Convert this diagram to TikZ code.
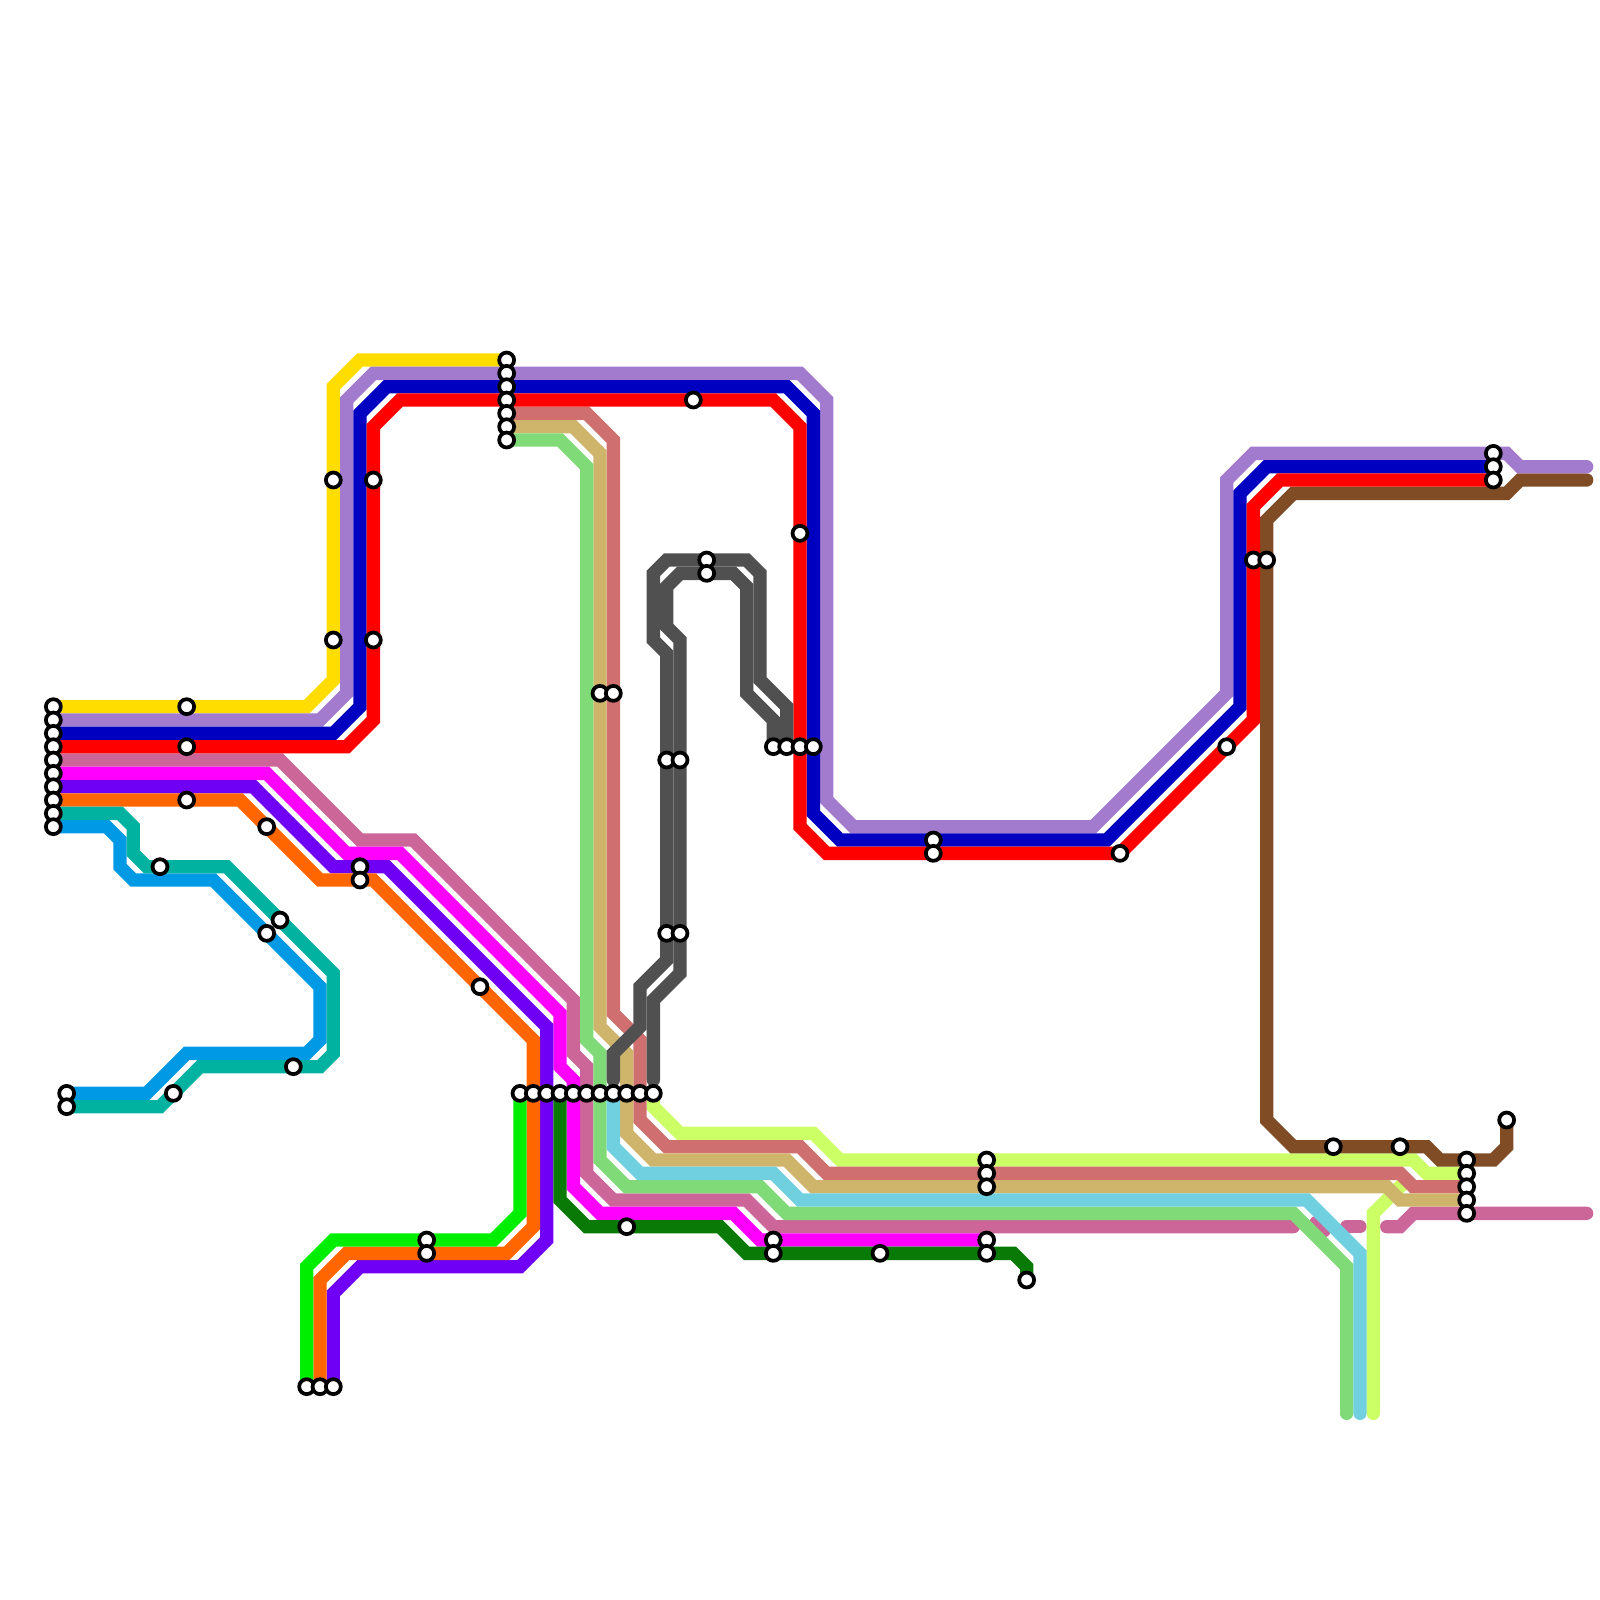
\documentclass[tikz,border=0pt]{standalone}
\definecolor{cyellow}{HTML}{FFDD00}
\definecolor{cpurple}{HTML}{A27BCE}
\definecolor{cnavy}{HTML}{0000C0}
\definecolor{cred}{HTML}{FF0000}
\definecolor{cpink}{HTML}{CC6699}
\definecolor{cmagenta}{HTML}{FF00FF}
\definecolor{cviolet}{HTML}{7000F5}
\definecolor{corange}{HTML}{FF6600}
\definecolor{cteal}{HTML}{00B29F}
\definecolor{csky}{HTML}{0099E6}
\definecolor{cgreen}{HTML}{00EE00}
\definecolor{cforest}{HTML}{0A7A06}
\definecolor{ctan}{HTML}{CFB56C}
\definecolor{csalmon}{HTML}{CF6F6F}
\definecolor{cmint}{HTML}{80DA78}
\definecolor{caqua}{HTML}{70D0E0}
\definecolor{clime}{HTML}{CCFF66}
\definecolor{cbrown}{HTML}{7F4C26}
\definecolor{cgrey}{HTML}{505050}
\begin{document}
\begin{tikzpicture}[x=1mm,y=-1mm,line join=miter,line cap=round,
	metro/.style={draw=#1,line width=1mm},
	station/.style={circle,draw=black,fill=white,line width=0.28mm,minimum size=1.12mm,inner sep=0pt}]
	\useasboundingbox (0,0) rectangle (120,120);
	% lines at the bottom of the stack
	\draw[metro=cpink] (4,57)--(21,57)--(27,63)--(31,63)--(43,75)--(43,79)--(44,80)--(44,88)--(46,90)--(56,90)--(58,92)--(97,92);
	\draw[metro=cpink] (98.7,91.7)--(99.3,92.3);
	\draw[metro=cpink] (101,92)--(102,92);
	\draw[metro=cpink] (104,92)--(105,92)--(106,91)--(119,91);
	\draw[metro=clime] (49,82)--(49,83)--(51,85)--(61,85)--(63,87)--(106,87)--(107,88)--(110,88);
	\draw[metro=clime] (103,106)--(103,91)--(105.5,88.5);
	\draw[metro=cbrown] (119,36)--(114,36)--(113,37)--(97,37)--(95,39)--(95,84)--(97,86)--(107,86)--(108,87)--(112,87)--(113,86)--(113,84);
	\draw[metro=csalmon] (38,31)--(44,31)--(46,33)--(46,76)--(48,78)--(48,84)--(50,86)--(60,86)--(62,88)--(105,88)--(106,89)--(110,89);
	\draw[metro=ctan] (38,32)--(43,32)--(45,34)--(45,77)--(47,79)--(47,85)--(49,87)--(59,87)--(61,89)--(104,89)--(105,90)--(110,90);
	\draw[metro=cmint] (38,33)--(42,33)--(44,35)--(44,78)--(45,79)--(45,87)--(47,89)--(57,89)--(59,91)--(97,91)--(101,95)--(101,106);
	\draw[metro=caqua] (46,82)--(46,86)--(48,88)--(58,88)--(60,90)--(98,90)--(102,94)--(102,106);
	% the long lines from the left
	\draw[metro=cyellow] (4,53)--(23,53)--(25,51)--(25,29)--(27,27)--(38,27);
	\draw[metro=cpurple] (4,54)--(24,54)--(26,52)--(26,30)--(28,28)--(60,28)--(62,30)--(62,60)--(64,62)--(82,62)--(92,52)--(92,36)--(94,34)--(113,34)--(114,35)--(119,35);
	\draw[metro=cnavy] (4,55)--(25,55)--(27,53)--(27,31)--(29,29)--(59,29)--(61,31)--(61,61)--(63,63)--(83,63)--(93,53)--(93,37)--(95,35)--(112,35);
	\draw[metro=cred] (4,56)--(26,56)--(28,54)--(28,32)--(30,30)--(58,30)--(60,32)--(60,62)--(62,64)--(84,64)--(94,54)--(94,38)--(96,36)--(112,36);
	\draw[metro=cmagenta] (4,58)--(20,58)--(26,64)--(30,64)--(42,76)--(42,80)--(43,81)--(43,89)--(45,91)--(55,91)--(57,93)--(74,93);
	\draw[metro=cviolet] (4,59)--(19,59)--(25,65)--(29,65)--(41,77)--(41,93)--(39,95)--(27,95)--(25,97)--(25,104);
	\draw[metro=corange] (4,60)--(18,60)--(24,66)--(28,66)--(40,78)--(40,92)--(38,94)--(26,94)--(24,96)--(24,104);
	\draw[metro=csky] (4,62)--(8,62)--(9,63)--(9,65)--(10,66)--(16,66)--(24,74)--(24,78)--(23,79)--(14,79)--(11,82)--(5,82);
	\draw[metro=cteal] (4,61)--(9,61)--(10,62)--(10,64)--(11,65)--(17,65)--(25,73)--(25,79)--(24,80)--(15,80)--(12,83)--(5,83);
	\draw[metro=cgreen] (23,104)--(23,95)--(25,93)--(37,93)--(39,91)--(39,82);
	\draw[metro=cforest] (42,82)--(42,90)--(44,92)--(54,92)--(56,94)--(76,94)--(77,95)--(77,96);
	% the two grey ones go over the rest
	\draw[metro=cgrey] (46,81)--(46,79)--(48,77)--(48,74)--(50,72)--(50,49)--(49,48)--(49,43)--(50,42)--(56,42)--(57,43)--(57,51)--(59,53)--(59,56);
	\draw[metro=cgrey] (49,81)--(49,75)--(51,73)--(51,48)--(50,47)--(50,44)--(51,43)--(55,43)--(56,44)--(56,52)--(58,54)--(58,56);
	% stations
	\foreach \y in {27,...,33} \node[station] (a\y) at (38,\y) {};
	\foreach \y in {53,...,62} \node[station] (b\y) at (4,\y) {};
	\foreach \x in {39,...,49} \node[station] (c\x) at (\x,82) {};
	\foreach \y in {87,...,91} \node[station] (d\y) at (110,\y) {};
	\foreach \y in {34,35,36} \node[station] (e\y) at (112,\y) {};
	\foreach \x in {58,...,61} \node[station] (f\x) at (\x,56) {};
	\foreach \x in {23,24,25} \node[station] (g\x) at (\x,104) {};
	\foreach \x/\y [count=\i] in {14/53,14/56,14/60,20/62,12/65,21/69,20/70,13/82,22/80,5/82,5/83,25/36,25/48,28/36,28/48,27/65,27/66,36/74,32/93,32/94,45/52,46/52,47/92,52/30,53/42,53/43,50/57,51/57,50/70,51/70,60/40,58/93,58/94,66/94,70/63,70/64,74/87,74/88,74/89,74/93,74/94,77/96,84/64,92/56,94/42,95/42,100/86,105/86,113/84}
		\node[station] (s\i) at (\x,\y) {};
\end{tikzpicture}
\end{document}
